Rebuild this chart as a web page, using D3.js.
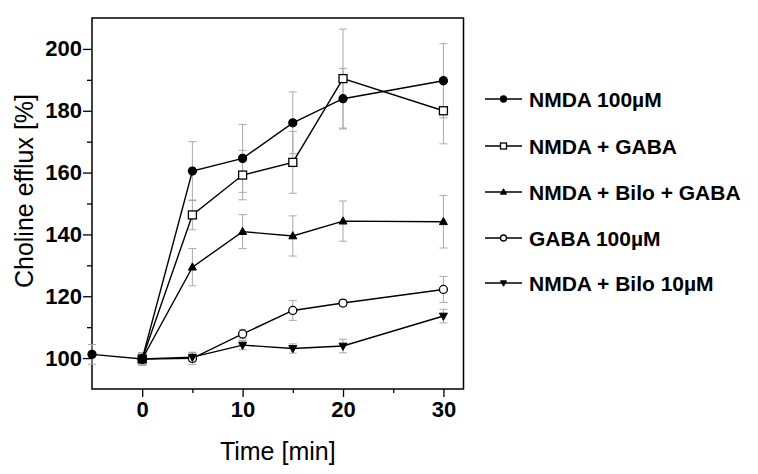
<!DOCTYPE html>
<html>
<head>
<meta charset="utf-8">
<script src="https://cdn.jsdelivr.net/npm/d3@7"></script>
<style>
  html, body { margin: 0; padding: 0; background: #fff; }
  svg { display: block; font-family: "Liberation Sans", Arial, sans-serif; }
</style>
</head>
<body>
<svg id="chart" width="758" height="474"></svg>
<script>
// ---- Data ----
const timesNMDA = [-5, 0, 5, 10, 15, 20, 30];
const times = [0, 5, 10, 15, 20, 30];

const nmdaValues = [101.2, 99.7, 160.5, 164.6, 176.1, 183.9, 189.7];
const nmdaErrors = [3.2, 2, 9.5, 11, 10, 9.8, 12];

const nmdaGabaValues = [99.7, 146.3, 159.2, 163.3, 190.4, 180.0];
const nmdaGabaErrors = [2, 4.8, 8, 10, 16, 10.7];

const nmdaBiloGabaValues = [99.7, 129.4, 140.9, 139.5, 144.3, 144.1];
const nmdaBiloGabaErrors = [2, 6, 5.5, 6.5, 6.5, 8.5];

const gabaValues = [99.7, 99.9, 107.8, 115.4, 117.8, 122.2];
const gabaErrors = [2, 2, 1.5, 3.2, 1, 4.2];

const nmdaBiloValues = [99.7, 100.3, 104.2, 103.1, 103.9, 113.6];
const nmdaBiloErrors = [2, 1.5, 1.5, 1.5, 2.2, 2.2];

const seriesNames = ["NMDA 100µM", "NMDA + GABA", "NMDA + Bilo + GABA", "GABA 100µM", "NMDA + Bilo 10µM"];
const yMajorTicks = [100, 120, 140, 160, 180, 200];
const yMinorTicks = [110, 130, 150, 170, 190];
const xMajorTicks = [0, 10, 20, 30];
const xMinorTicks = [5, 15, 25];

const xLabel = "Time [min]";
const yLabel = "Choline efflux [%]";

// ---- Build series ----
function build(ts, vals, errs) { return ts.map((t, i) => ({ t, v: vals[i], e: errs[i] })); }
const series = [
  { name: seriesNames[0], symbol: "circle", fill: "#000", data: build(timesNMDA, nmdaValues, nmdaErrors) },
  { name: seriesNames[1], symbol: "square", fill: "#fff", data: build(times, nmdaGabaValues, nmdaGabaErrors) },
  { name: seriesNames[2], symbol: "triangle", fill: "#000", data: build(times, nmdaBiloGabaValues, nmdaBiloGabaErrors) },
  { name: seriesNames[3], symbol: "circle", fill: "#fff", data: build(times, gabaValues, gabaErrors) },
  { name: seriesNames[4], symbol: "triangleDown", fill: "#000", data: build(times, nmdaBiloValues, nmdaBiloErrors) }
];

// ---- Layout ----
const svg = d3.select("#chart");
const plot = { left: 92, top: 18, right: 463.5, bottom: 389 };
const x = d3.scaleLinear().domain([-5, 32]).range([plot.left, plot.right]);
const y = d3.scaleLinear().domain([90, 210]).range([plot.bottom, plot.top]);

// frame
svg.append("rect")
  .attr("x", plot.left).attr("y", plot.top)
  .attr("width", plot.right - plot.left).attr("height", plot.bottom - plot.top)
  .attr("fill", "none").attr("stroke", "#000").attr("stroke-width", 1.5);

// axes
const yAxis = d3.axisLeft(y).tickValues(yMajorTicks).tickSize(9).tickPadding(1).tickFormat(d3.format("d"));
const gy = svg.append("g").attr("transform", `translate(${plot.left},0)`).call(yAxis);
const yMinor = d3.axisLeft(y).tickValues(yMinorTicks).tickSize(5).tickFormat("");
const gym = svg.append("g").attr("transform", `translate(${plot.left},0)`).call(yMinor);

const xAxis = d3.axisBottom(x).tickValues(xMajorTicks).tickSize(8).tickPadding(4).tickFormat(d3.format("d"));
const gx = svg.append("g").attr("transform", `translate(0,${plot.bottom})`).call(xAxis);
const xMinor = d3.axisBottom(x).tickValues(xMinorTicks).tickSize(4).tickFormat("");
const gxm = svg.append("g").attr("transform", `translate(0,${plot.bottom})`).call(xMinor);

[gy, gym, gx, gxm].forEach(g => {
  g.select(".domain").remove();
  g.selectAll(".tick line").attr("stroke", "#000").attr("stroke-width", 1.3);
  g.selectAll(".tick text")
    .attr("fill", "#000")
    .style("font-family", "'Liberation Sans', Arial, sans-serif")
    .style("font-size", "22px").style("font-weight", "bold");
});

// axis titles
svg.append("text")
  .attr("x", (plot.left + plot.right) / 2).attr("y", 460)
  .attr("text-anchor", "middle")
  .style("font-size", "25px").attr("fill", "#000")
  .text(xLabel);
svg.append("text")
  .attr("transform", `translate(33,191) rotate(-90)`)
  .attr("text-anchor", "middle")
  .style("font-size", "25px").attr("fill", "#000")
  .text(yLabel);

// symbol drawer
function drawSymbol(g, type, cx, cy, s, fill) {
  if (type === "circle") {
    g.append("circle").attr("cx", cx).attr("cy", cy).attr("r", s / 2)
      .attr("fill", fill).attr("stroke", "#000").attr("stroke-width", 1.3);
  } else if (type === "square") {
    g.append("rect").attr("x", cx - s / 2).attr("y", cy - s / 2).attr("width", s).attr("height", s)
      .attr("fill", fill).attr("stroke", "#000").attr("stroke-width", 1.3);
  } else if (type === "triangle") {
    const h = s * 0.9;
    g.append("path").attr("d", `M${cx},${cy - h * 0.6}L${cx + s / 2},${cy + h * 0.4}L${cx - s / 2},${cy + h * 0.4}Z`)
      .attr("fill", fill).attr("stroke", "#000").attr("stroke-width", 1);
  } else if (type === "triangleDown") {
    const h = s * 0.9;
    g.append("path").attr("d", `M${cx},${cy + h * 0.6}L${cx + s / 2},${cy - h * 0.4}L${cx - s / 2},${cy - h * 0.4}Z`)
      .attr("fill", fill).attr("stroke", "#000").attr("stroke-width", 1);
  }
}

// error bars (behind)
const gErr = svg.append("g");
series.forEach(s => {
  s.data.forEach(d => {
    const cx = x(d.t), y1 = y(d.v + d.e), y2 = y(d.v - d.e);
    gErr.append("line").attr("x1", cx).attr("x2", cx).attr("y1", y1).attr("y2", y2)
      .attr("stroke", "#aaa").attr("stroke-width", 1);
    [y1, y2].forEach(yy => gErr.append("line").attr("x1", cx - 4).attr("x2", cx + 4).attr("y1", yy).attr("y2", yy)
      .attr("stroke", "#aaa").attr("stroke-width", 1));
  });
});

// lines
const line = d3.line().x(d => x(d.t)).y(d => y(d.v));
const gLines = svg.append("g");
series.forEach(s => {
  gLines.append("path").datum(s.data).attr("d", line)
    .attr("fill", "none").attr("stroke", "#000").attr("stroke-width", 1.4);
});

// markers: open markers first, filled markers on top
const gMarks = svg.append("g");
const drawOrder = [3, 1, 4, 2, 0];
drawOrder.forEach(i => {
  const s = series[i];
  s.data.forEach(d => drawSymbol(gMarks, s.symbol, x(d.t), y(d.v), 8, s.fill));
});

// legend
const legendY = [99, 146, 192, 238, 283];
const gLeg = svg.append("g");
series.forEach((s, i) => {
  const ly = legendY[i];
  gLeg.append("line").attr("x1", 485).attr("x2", 522).attr("y1", ly).attr("y2", ly)
    .attr("stroke", "#000").attr("stroke-width", 1.4);
  drawSymbol(gLeg, s.symbol, 503.5, ly, 6, s.fill);
  gLeg.append("text").attr("x", 529).attr("y", ly).attr("dy", "0.36em")
    .style("font-size", "21px").style("font-weight", "bold").attr("fill", "#000")
    .text(s.name);
});
</script>
</body>
</html>
